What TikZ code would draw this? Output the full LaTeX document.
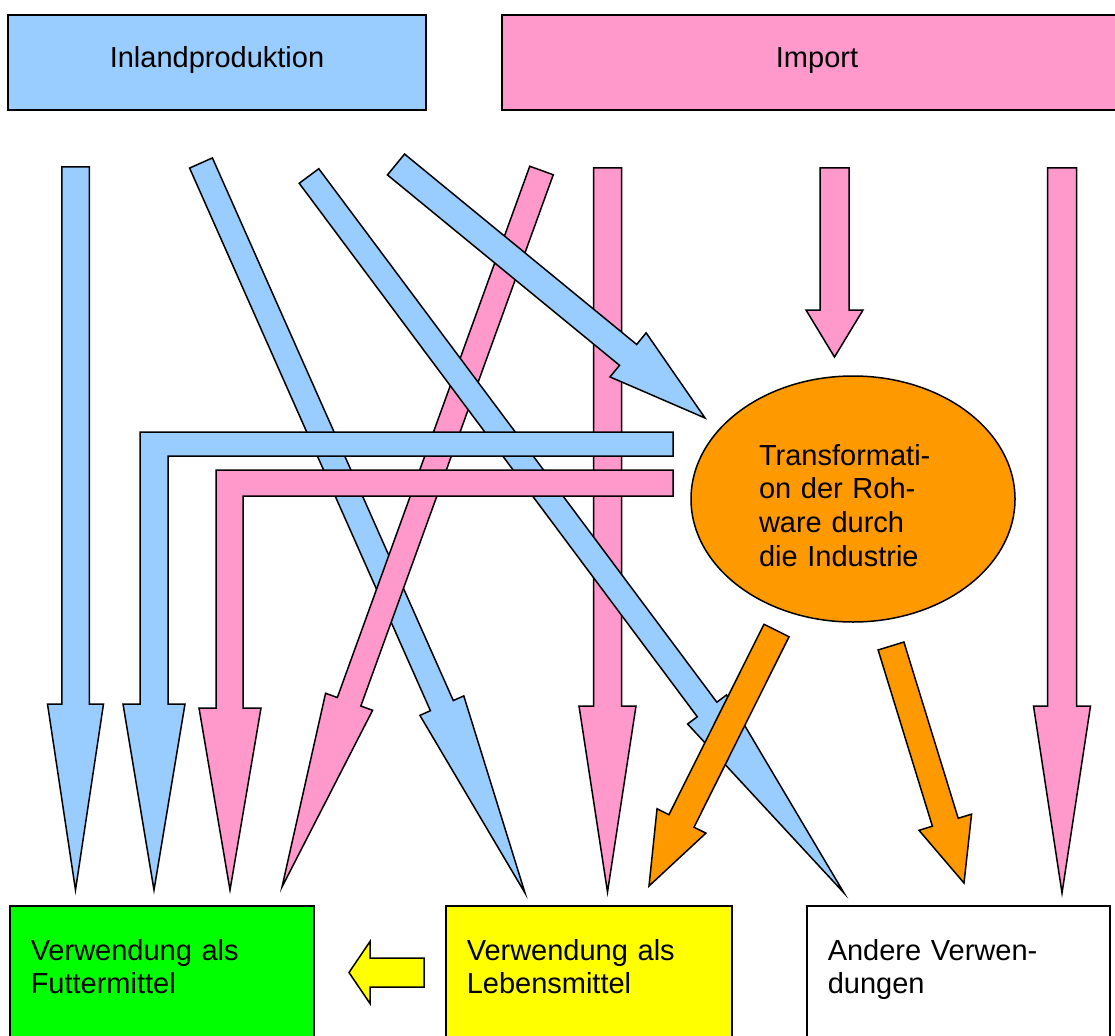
\documentclass[tikz,border=0pt]{standalone}
\usepackage{fontspec}
\setmainfont{Liberation Sans}
\usetikzlibrary{calc, shapes.geometric}
\definecolor{inlandblue}{RGB}{153,204,255}
\definecolor{importpink}{RGB}{255,153,204}
\definecolor{industryorange}{RGB}{255,153,0}
\definecolor{feedgreen}{RGB}{0,255,0}
\definecolor{foodyellow}{RGB}{255,255,0}
\tikzset{
	sourcebox/.style = {rectangle, draw=black, line width=1.5pt, minimum height=95pt, text height=21pt, text depth=10pt, font=\fontsize{29}{33.5}\selectfont},
	usebox/.style = {rectangle, draw=black, line width=1.5pt, anchor=north west, align=left, inner xsep=21pt, inner ysep=34pt, text height=21pt, text depth=150pt, font=\fontsize{29}{33}\selectfont},
	industry/.style = {ellipse, draw=black, fill=industryorange, line width=1.5pt, minimum width=324pt, minimum height=246pt, inner sep=0pt, text width=188pt, align=left, text height=21pt, text depth=89pt, font=\fontsize{29}{33.7}\selectfont},
	bluearrow/.style = {draw=black, fill=inlandblue, line width=1.5pt},
	pinkarrow/.style = {draw=black, fill=importpink, line width=1.5pt},
	orangearrow/.style = {draw=black, fill=industryorange, line width=1.5pt},
	yellowarrow/.style = {draw=black, fill=foodyellow, line width=1.5pt}
}
% block arrow: [style]{tail}{tip}{shaft half width}{head half width}{head length}
\newcommand{\fatarrow}[6][]{%
	\coordinate (hb) at ($(#3)!#6pt!(#2)$);
	\draw[#1] ($(#2)!#4pt!90:(#3)$) -- ($(hb)!#4pt!90:(#3)$) -- ($(hb)!#5pt!90:(#3)$) -- (#3)
		-- ($(hb)!#5pt!-90:(#3)$) -- ($(hb)!#4pt!-90:(#3)$) -- ($(#2)!#4pt!-90:(#3)$) -- cycle;}

\begin{document}
\begin{tikzpicture}[x=1pt, y=-1pt]
		
		\useasboundingbox (0,0) rectangle (1115,1035);
		\clip (0,0) rectangle (1115,1035);
		
		% Sources
		\node (inland) [sourcebox, fill=inlandblue, minimum width=418pt] at (217,62.5) {Inlandproduktion};
		\node (import) [sourcebox, fill=importpink, minimum width=630pt] at (817,62.5) {Import};
		
		% Industry
		\node (industry) [industry] at (853,499) {Transformati-\\on der Roh-\\ware durch\\die Industrie};
		
		% Uses
		\node (feed_use) [usebox, fill=feedgreen, text width=262pt] at (9,905) {Verwendung als\\Futtermittel};
		\node (food_use) [usebox, fill=foodyellow, text width=244pt] at (445,905) {Verwendung als\\Lebensmittel};
		\node (other_use) [usebox, fill=white, text width=261pt] at (806,905) {Andere Verwen-\\dungen};
		
		% Arrow ends
		\coordinate (inland_feed_s) at (75.5,167);
		\coordinate (inland_feed_t) at (75.5,890);
		\coordinate (inland_food_s) at (201,163);
		\coordinate (inland_food_t) at (525,893);
		\coordinate (inland_other_s) at (309,176);
		\coordinate (inland_other_t) at (844,893);
		\coordinate (inland_ind_s) at (396,164.5);
		\coordinate (inland_ind_t) at (705,418);
		\coordinate (import_feed_s) at (541.5,170.5);
		\coordinate (import_feed_t) at (282,887);
		\coordinate (import_food_s) at (607.5,168);
		\coordinate (import_food_t) at (607.5,892);
		\coordinate (import_ind_s) at (834.5,168);
		\coordinate (import_ind_t) at (834.5,357);
		\coordinate (import_other_s) at (1062,168);
		\coordinate (import_other_t) at (1062,893);
		\coordinate (ind_food_s) at (776.5,630.5);
		\coordinate (ind_food_t) at (649,886);
		\coordinate (ind_other_s) at (891,646);
		\coordinate (ind_other_t) at (964,883);
		\coordinate (food_feed_s) at (424,972.5);
		\coordinate (food_feed_t) at (349,972.5);
		
		% Arrows
		\fatarrow[bluearrow]{inland_feed_s}{inland_feed_t}{13.75}{28}{186}
		\fatarrow[bluearrow]{inland_food_s}{inland_food_t}{12.5}{24}{205}
		\fatarrow[pinkarrow]{import_feed_s}{import_feed_t}{12.5}{25}{197}
		\fatarrow[pinkarrow]{import_food_s}{import_food_t}{14}{28.5}{186}
		\fatarrow[bluearrow]{inland_other_s}{inland_other_t}{12.2}{24.3}{229}
		\fatarrow[bluearrow]{inland_ind_s}{inland_ind_t}{13.5}{28.5}{99.5}
		\fatarrow[pinkarrow]{import_ind_s}{import_ind_t}{14.5}{28.5}{47}
		\fatarrow[pinkarrow]{import_other_s}{import_other_t}{14.5}{28.5}{187}
		
		% Back from industry to feed
		\draw [bluearrow] (673,432) -| (140,704) -- (123,704) -- (154,890) -- (185,704) -- (168,704) |- (673,456) -- cycle;
		\draw [pinkarrow] (673,470) -| (216,708) -- (199,708) -- (230,890) -- (261,708) -- (243,708) |- (673,496) -- cycle;
		
		\fatarrow[orangearrow]{ind_food_s}{ind_food_t}{14}{27.3}{72.7}
		\fatarrow[orangearrow]{ind_other_s}{ind_other_t}{13.5}{27.5}{63.6}
		\fatarrow[yellowarrow]{food_feed_s}{food_feed_t}{14.5}{31}{21}
		
	\end{tikzpicture}
\end{document}
